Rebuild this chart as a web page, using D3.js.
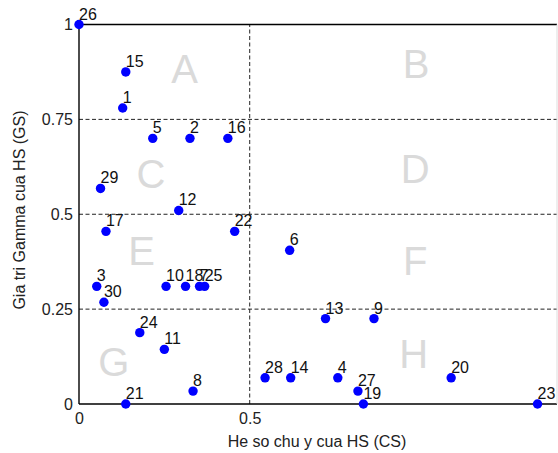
<!DOCTYPE html>
<html>
<head>
<meta charset="utf-8">
<script src="https://cdn.jsdelivr.net/npm/d3@7"></script>
<style>
  body { margin: 0; background: #fff; }
  text { font-family: "Liberation Sans", Arial, sans-serif; }
</style>
</head>
<body>
<script>
// he so chu y (CS) and gamma (GS) for each student, ids 1..30
var ids = [1,2,3,4,5,6,7,8,9,10,11,12,13,14,15,16,17,18,19,20,21,22,23,24,25,26,27,28,29,30];
var cs = [0.128,0.325,0.052,0.758,0.216,0.617,0.353,0.334,0.864,0.255,0.25,0.292,0.722,0.62,0.137,
          0.436,0.079,0.312,0.833,1.09,0.137,0.456,1.343,0.178,0.368,0,0.817,0.545,0.063,0.073];
var gs = [0.78,0.70,0.31,0.069,0.70,0.405,0.31,0.034,0.225,0.31,0.144,0.51,0.225,0.069,0.875,
          0.70,0.455,0.31,0,0.069,0,0.455,0,0.188,0.31,1,0.034,0.069,0.568,0.268];
var xTicks = [0, 0.5];
var yTicks = [0, 0.25, 0.5, 0.75, 1];
var yTickLabels = ["0", "0.25", "0.5", "0.75", "1"];
var vLines = [0.5];
var hLines = [0.25, 0.5, 0.75];
var zoneNames = ["A","B","C","D","E","F","G","H"];
var zoneX = [0.309, 0.987, 0.211, 0.985, 0.183, 0.985, 0.102, 0.98];
var zoneY = [0.884, 0.896, 0.608, 0.621, 0.403, 0.379, 0.113, 0.134];

var w = 558, h = 453;
var x = d3.scaleLinear().domain([0, 1.4]).range([79, 557]);
var y = d3.scaleLinear().domain([0, 1]).range([404, 24.5]);

var svg = d3.select("body").append("svg")
  .attr("width", w)
  .attr("height", h);

// zone letters
svg.selectAll("text.zone")
  .data(zoneNames)
  .enter()
  .append("text")
  .attr("class", "zone")
  .attr("x", function(d, i) { return x(zoneX[i]); })
  .attr("y", function(d, i) { return y(zoneY[i]); })
  .attr("dy", "0.36em")
  .attr("text-anchor", "middle")
  .attr("font-size", 40)
  .attr("fill", "#dadada")
  .text(function(d) { return d; });

// dashed grid
svg.selectAll("line.h")
  .data(hLines)
  .enter()
  .append("line")
  .attr("x1", x(0)).attr("x2", x(1.4))
  .attr("y1", function(d) { return y(d); })
  .attr("y2", function(d) { return y(d); })
  .attr("stroke", "#222")
  .attr("stroke-dasharray", "4,2.5");
svg.selectAll("line.v")
  .data(vLines)
  .enter()
  .append("line")
  .attr("y1", y(0)).attr("y2", y(1))
  .attr("x1", function(d) { return x(d); })
  .attr("x2", function(d) { return x(d); })
  .attr("stroke", "#222")
  .attr("stroke-dasharray", "4,2.5");

// frame
svg.append("line").attr("x1", x(0)).attr("x2", x(1.4)).attr("y1", y(1)).attr("y2", y(1))
  .attr("stroke", "#000").attr("stroke-width", 1.4);
svg.append("line").attr("x1", x(0)).attr("x2", x(1.4)).attr("y1", y(0)).attr("y2", y(0))
  .attr("stroke", "#000").attr("stroke-width", 1.4);
svg.append("line").attr("x1", x(0)).attr("x2", x(0)).attr("y1", y(0)).attr("y2", y(1))
  .attr("stroke", "#000").attr("stroke-width", 1.4);
svg.append("line").attr("x1", x(1.4)).attr("x2", x(1.4)).attr("y1", y(0)).attr("y2", y(1))
  .attr("stroke", "#ddd").attr("stroke-width", 1);

// axes
var xAxis = d3.axisBottom(x).tickValues(xTicks).tickSize(0).tickPadding(9)
  .tickFormat(function(d) { return d === 0 ? "0" : String(d); });
var gx = svg.append("g").attr("transform", "translate(0," + y(0) + ")").call(xAxis);
var yAxis = d3.axisLeft(y).tickValues(yTicks).tickSize(0).tickPadding(6)
  .tickFormat(function(d, i) { return yTickLabels[i]; });
var gy = svg.append("g").attr("transform", "translate(" + x(0) + ",0)").call(yAxis);
[gx, gy].forEach(function(g) {
  g.select(".domain").remove();
  g.selectAll("text").attr("font-size", 16).attr("fill", "#222")
    .attr("font-family", "Liberation Sans, Arial, sans-serif");
});

// axis titles
svg.append("text")
  .attr("x", 317).attr("y", 447)
  .attr("text-anchor", "middle")
  .attr("font-size", 16)
  .attr("fill", "#222")
  .text("He so chu y cua HS (CS)");
svg.append("text")
  .attr("transform", "translate(25,210) rotate(-90)")
  .attr("text-anchor", "middle")
  .attr("font-size", 16)
  .attr("fill", "#222")
  .text("Gia tri Gamma cua HS (GS)");

// points
svg.selectAll("circle")
  .data(ids)
  .enter()
  .append("circle")
  .attr("cx", function(d, i) { return x(cs[i]); })
  .attr("cy", function(d, i) { return y(gs[i]); })
  .attr("r", 4.7)
  .attr("fill", "#0000ff");

svg.selectAll("text.lbl")
  .data(ids)
  .enter()
  .append("text")
  .attr("class", "lbl")
  .attr("x", function(d, i) { return x(cs[i]); })
  .attr("y", function(d, i) { return y(gs[i]) - 5; })
  .attr("font-size", 16)
  .attr("fill", "#111")
  .text(function(d) { return d; });
</script>
</body>
</html>
